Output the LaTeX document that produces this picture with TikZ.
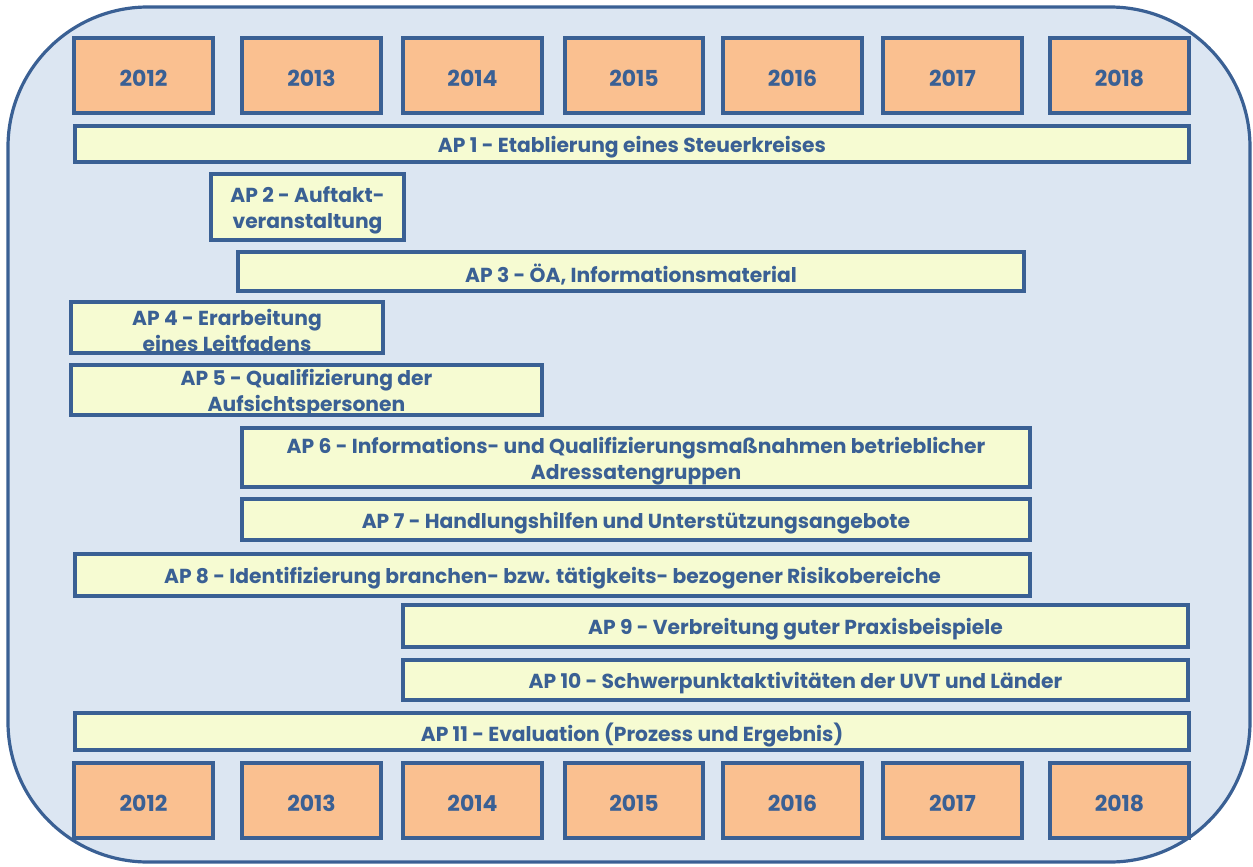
\documentclass[tikz,border=0pt]{standalone}
\usepackage{fontspec}
\setmainfont{Poppins}
\definecolor{bdr}{HTML}{3A6094}
\definecolor{bgc}{HTML}{DCE6F2}
\definecolor{org}{HTML}{FAC090}
\definecolor{yel}{HTML}{F6FBD2}
\begin{document}
\begin{tikzpicture}[x=0.75pt,y=-0.75pt,
  yearbox/.style={draw=bdr,line width=2.6pt,fill=org,text=bdr,font=\bfseries\fontsize{16.5}{18}\selectfont},
  apbox/.style={draw=bdr,line width=2.6pt,fill=yel,text=bdr,font=\bfseries\fontsize{15.2}{19.5}\selectfont,align=center},
  lbl/.style={yshift=-2.5pt},
  ylbl/.style={text height=12pt,text depth=0pt,yshift=-2pt}]
\useasboundingbox (0,0) rectangle (1253,867);
\fill[white] (0,0) rectangle (1253,867);
\draw[draw=bdr,fill=bgc,line width=2.4pt,rounded corners=140*0.75pt] (8,7) rectangle (1250,862);
% year boxes
\foreach \n/\a/\b in {2012/74/213,2013/242/381,2014/403/542,2015/565/703,2016/723/862,2017/883/1022,2018/1050/1189}{
  \draw[yearbox] (\a,38) rectangle (\b,113) node[midway,ylbl] (t\n) {\n};
  \draw[yearbox] (\a,763) rectangle (\b,838) node[midway,ylbl] (b\n) {\n};
}
\draw[apbox] (75,126) rectangle (1189,162) node[midway,lbl] (ap1) {AP 1 - Etablierung eines Steuerkreises};
\draw[apbox] (211,174) rectangle (404,240) node[midway,lbl] (ap2) {AP 2 - Auftakt-\\veranstaltung};
\draw[apbox] (238,252) rectangle (1024,291) node[midway,lbl] (ap3) {AP 3 - ÖA, Informationsmaterial};
\draw[apbox] (71,302) rectangle (383,353) node[midway,lbl] (ap4) {AP 4 - Erarbeitung\\eines Leitfadens};
\draw[apbox] (71,365) rectangle (542,415) node[midway,lbl] (ap5) {AP 5 - Qualifizierung der\\Aufsichtspersonen};
\draw[apbox] (242,428) rectangle (1030,487) node[midway,lbl] (ap6) {AP 6 - Informations- und Qualifizierungsmaßnahmen betrieblicher\\Adressatengruppen};
\draw[apbox] (242,499) rectangle (1030,540) node[midway,lbl] (ap7) {AP 7 - Handlungshilfen und Unterstützungsangebote};
\draw[apbox] (75,554) rectangle (1030,596) node[midway,lbl] (ap8) {AP 8 - Identifizierung branchen- bzw. tätigkeits- bezogener Risikobereiche};
\draw[apbox] (403,605) rectangle (1188,647) node[midway,lbl] (ap9) {AP 9 - Verbreitung guter Praxisbeispiele};
\draw[apbox] (403,660) rectangle (1188,700) node[midway,lbl] (ap10) {AP 10 - Schwerpunktaktivitäten der UVT und Länder};
\draw[apbox] (75,713) rectangle (1189,750) node[midway,lbl] (ap11) {AP 11 - Evaluation (Prozess und Ergebnis)};
\end{tikzpicture}
\end{document}
